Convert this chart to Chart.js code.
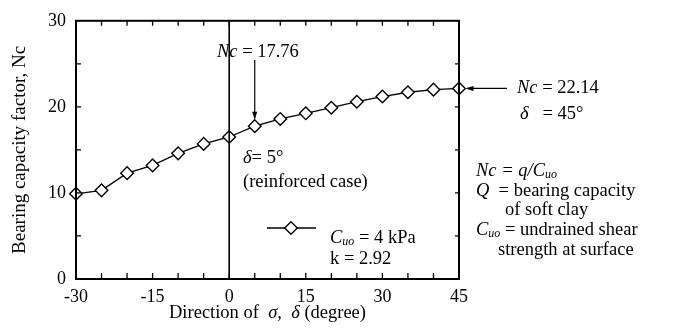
<!DOCTYPE html>
<html>
<head>
<meta charset="utf-8">
<title>Bearing capacity factor vs direction</title>
<script src="https://cdn.jsdelivr.net/npm/chart.js@4/dist/chart.umd.min.js"></script>
<style>
  html, body { margin: 0; padding: 0; background: #fff; }
  canvas { display: block; }
</style>
</head>
<body>
<canvas id="chart" width="677" height="331"></canvas>
<script>
// Direction of σ, δ (degrees) and the bearing capacity factor Nc at each direction
const directionDeg = [-30, -25, -20, -15, -10, -5, 0, 5, 10, 15, 20, 25, 30, 35, 40, 45];
const ncValues = [9.9, 10.3, 12.3, 13.2, 14.6, 15.7, 16.5, 17.76, 18.6, 19.25, 19.9, 20.6, 21.2, 21.7, 22.0, 22.14];
const xTickValues = [-30, -15, 0, 15, 30, 45];
const yTickValues = [0, 10, 20, 30];
const minorStep = 5;
const reinforcedDelta = 5;   // reinforced case
const peakDelta = 45;        // maximum Nc

const SERIF = '"Liberation Serif", "Times New Roman", serif';
const TXT = 18.5;

// draw a run of text pieces: [text, style] with style n = normal, i = italic, s = italic subscript
function richText(ctx, x, y, pieces, align) {
  const fontOf = s => (s === 'n' ? '' : 'italic ') + (s === 's' ? 12 : TXT) + 'px ' + SERIF;
  let total = 0;
  pieces.forEach(([t, s]) => { ctx.font = fontOf(s); total += ctx.measureText(t).width; });
  let cx = align === 'center' ? x - total / 2 : x;
  ctx.textBaseline = 'middle';
  ctx.textAlign = 'left';
  ctx.fillStyle = '#000';
  pieces.forEach(([t, s]) => {
    ctx.font = fontOf(s);
    ctx.fillText(t, cx, y + (s === 's' ? 4 : 0));
    cx += ctx.measureText(t).width;
  });
}

function arrowHead(ctx, tipX, tipY, dirX, dirY, len, half) {
  const bx = tipX - dirX * len, by = tipY - dirY * len;
  ctx.beginPath();
  ctx.moveTo(tipX, tipY);
  ctx.lineTo(bx - dirY * half, by + dirX * half);
  ctx.lineTo(bx + dirY * half, by - dirX * half);
  ctx.closePath();
  ctx.fill();
}

const markerStyle = {
  pointStyle: 'rectRot', radius: 6.3, rotation: 0,
  borderWidth: 1.4, borderColor: '#000', backgroundColor: '#fff'
};

const annotations = {
  id: 'annotations',
  afterDatasetsDraw(chart) {
    const { ctx, chartArea: a, scales: { x, y } } = chart;
    ctx.save();
    ctx.strokeStyle = '#000';
    ctx.fillStyle = '#000';

    // frame
    ctx.lineWidth = 2;
    ctx.strokeRect(a.left, a.top, a.right - a.left, a.bottom - a.top);

    // inward ticks on all four sides
    ctx.lineWidth = 1.3;
    ctx.beginPath();
    for (let v = xTickValues[0] + minorStep; v < xTickValues[xTickValues.length - 1]; v += minorStep) {
      const px = x.getPixelForValue(v);
      ctx.moveTo(px, a.bottom); ctx.lineTo(px, a.bottom - 6);
      ctx.moveTo(px, a.top); ctx.lineTo(px, a.top + 5);
    }
    for (let v = yTickValues[0] + minorStep; v < yTickValues[yTickValues.length - 1]; v += minorStep) {
      const py = y.getPixelForValue(v);
      ctx.moveTo(a.left, py); ctx.lineTo(a.left + 5, py);
      ctx.moveTo(a.right, py); ctx.lineTo(a.right - 4, py);
    }
    ctx.stroke();

    // vertical line at δ = 0
    ctx.lineWidth = 1.6;
    const x0 = x.getPixelForValue(0);
    ctx.beginPath();
    ctx.moveTo(x0, a.top); ctx.lineTo(x0, a.bottom);
    ctx.stroke();

    // arrow to the reinforced case point
    const iR = directionDeg.indexOf(reinforcedDelta);
    const rx = x.getPixelForValue(reinforcedDelta), ry = y.getPixelForValue(ncValues[iR]);
    ctx.lineWidth = 1.2;
    ctx.beginPath();
    ctx.moveTo(rx, 60); ctx.lineTo(rx, ry - 8);
    ctx.stroke();
    arrowHead(ctx, rx, ry - 6.5, 0, 1, 8, 2.5);
    richText(ctx, 217, 52, [['Nc', 'i'], [' = ' + ncValues[iR].toFixed(2), 'n']]);

    // arrow to the maximum point
    const iP = directionDeg.indexOf(peakDelta);
    const px = x.getPixelForValue(peakDelta), py = y.getPixelForValue(ncValues[iP]);
    ctx.beginPath();
    ctx.moveTo(507, py); ctx.lineTo(px + 8, py);
    ctx.stroke();
    arrowHead(ctx, px + 6.5, py, -1, 0, 8, 2.5);
    richText(ctx, 517, py, [['Nc', 'i'], [' = ' + ncValues[iP].toFixed(2), 'n']]);
    richText(ctx, 520, py + 26, [['δ', 'i'], ['   = ' + peakDelta + '°', 'n']]);

    // reinforced case note
    richText(ctx, 243, 158, [['δ', 'i'], ['= ' + reinforcedDelta + '°', 'n']]);
    richText(ctx, 243, 182, [['(reinforced case)', 'n']]);

    // legend: line with an open diamond
    ctx.strokeStyle = '#000';
    ctx.lineWidth = 1.3;
    ctx.beginPath();
    ctx.moveTo(267, 228); ctx.lineTo(316, 228);
    ctx.stroke();
    ctx.fillStyle = markerStyle.backgroundColor;
    ctx.strokeStyle = markerStyle.borderColor;
    ctx.lineWidth = markerStyle.borderWidth;
    Chart.helpers.drawPoint(ctx, markerStyle, 291, 228);
    richText(ctx, 330, 238, [['C', 'i'], ['uo', 's'], [' = 4 kPa', 'n']]);
    richText(ctx, 330, 259, [['k = 2.92', 'n']]);

    // definitions
    richText(ctx, 476, 171, [['Nc = q/C', 'i'], ['uo', 's']]);
    richText(ctx, 476, 191, [['Q', 'i'], ['  = bearing capacity', 'n']]);
    richText(ctx, 505, 210.5, [['of soft clay', 'n']]);
    richText(ctx, 476, 230, [['C', 'i'], ['uo', 's'], [' = undrained shear', 'n']]);
    richText(ctx, 498, 250, [['strength at surface', 'n']]);

    // x axis title
    richText(ctx, (a.left + a.right) / 2, 313,
      [['Direction of  ', 'n'], ['σ,', 'i'], ['  ', 'n'], ['δ', 'i'], [' (degree)', 'n']], 'center');

    ctx.restore();
  }
};

new Chart(document.getElementById('chart'), {
  type: 'line',
  data: {
    datasets: [{
      label: 'Nc',
      data: directionDeg.map((d, i) => ({ x: d, y: ncValues[i] })),
      borderColor: '#000',
      borderWidth: 1.3,
      tension: 0,
      fill: false,
      clip: false,
      pointStyle: markerStyle.pointStyle,
      pointRadius: markerStyle.radius,
      pointHoverRadius: markerStyle.radius,
      pointBorderWidth: markerStyle.borderWidth,
      pointBorderColor: markerStyle.borderColor,
      pointBackgroundColor: markerStyle.backgroundColor
    }]
  },
  options: {
    responsive: false,
    animation: false,
    devicePixelRatio: 1,
    layout: { padding: { top: 12, right: 218, bottom: 0, left: 0 } },
    plugins: { legend: { display: false }, tooltip: { enabled: false } },
    scales: {
      x: {
        type: 'linear',
        min: xTickValues[0],
        max: xTickValues[xTickValues.length - 1],
        afterBuildTicks: s => { s.ticks = xTickValues.map(v => ({ value: v })); },
        afterFit: s => { s.height = 52; },
        grid: { display: false, drawTicks: false },
        border: { display: false },
        ticks: { color: '#000', font: { family: SERIF, size: 18 }, padding: 7, maxRotation: 0 }
      },
      y: {
        type: 'linear',
        min: yTickValues[0],
        max: yTickValues[yTickValues.length - 1],
        afterBuildTicks: s => { s.ticks = yTickValues.map(v => ({ value: v })); },
        afterFit: s => { s.width = 76; },
        grid: { display: false, drawTicks: false },
        border: { display: false },
        ticks: { color: '#000', font: { family: SERIF, size: 18 }, padding: 10 },
        title: {
          display: true,
          text: 'Bearing capacity factor, Nc',
          color: '#000',
          font: { family: SERIF, size: 19 },
          padding: { top: 9, bottom: 0 }
        }
      }
    }
  },
  plugins: [annotations]
});
</script>
</body>
</html>
